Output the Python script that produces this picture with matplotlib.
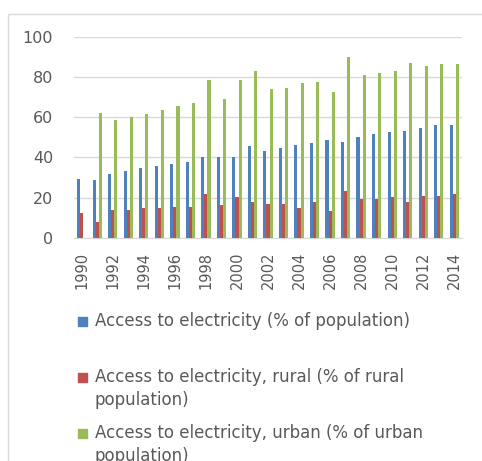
import matplotlib
matplotlib.use('Agg')
import matplotlib.pyplot as plt
from matplotlib.patches import Rectangle
import numpy as np

# Access to electricity, 1990-2014
years = list(range(1990, 2015))
total = [29.4, 28.6, 31.7, 33.2, 34.7, 35.7, 37.0, 37.8, 40.1, 40.1,
         40.1, 45.6, 43.3, 44.7, 46.2, 47.0, 48.5, 47.9, 50.2, 51.6,
         52.5, 53.3, 54.8, 56.3, 56.3]
rural = [12.5, 8.1, 14.1, 14.1, 14.8, 14.8, 15.6, 15.6, 21.9, 16.4,
         20.4, 17.9, 17.1, 17.1, 14.8, 17.9, 13.3, 23.4, 19.6, 19.6,
         20.2, 17.9, 21.1, 21.1, 21.9]
urban = [np.nan, 62.3, 58.6, 60.0, 61.7, 63.8, 65.5, 66.9, 78.5, 69.2,
         78.5, 83.1, 73.8, 74.7, 77.0, 77.6, 72.4, 90.0, 80.8, 82.2,
         83.1, 86.8, 85.4, 86.2, 86.2]

labels = ['Access to electricity (% of population)',
          'Access to electricity, rural (% of rural\npopulation)',
          'Access to electricity, urban (% of urban\npopulation)']
colors = ['#4f81bd', '#c0504d', '#9bbb59']
text_color = '#595959'

W, H = 482, 461
fig = plt.figure(figsize=(W / 100, H / 100), dpi=100)
ax = fig.add_axes([74 / W, 1 - 238 / H, (462 - 74) / W, (238 - 36.7) / H])

x = np.arange(len(years))
w = 0.2
for i, series in enumerate([total, rural, urban]):
    ax.bar(x + (i - 1) * w, series, width=w, color=colors[i], zorder=3)

ax.set_xlim(-0.5, len(years) - 0.5)
ax.set_ylim(0, 100)
ax.set_yticks(range(0, 101, 20))
ax.set_xticks(x[::2])
ax.set_xticklabels([str(y) for y in years[::2]], rotation=90)
ax.tick_params(axis='y', length=0, pad=15, labelsize=11.5, labelcolor=text_color)
ax.tick_params(axis='x', length=0, pad=10, labelsize=10.5, labelcolor=text_color)
ax.grid(axis='y', color='#d9d9d9', linewidth=1, zorder=0)
for side in ['left', 'right', 'top']:
    ax.spines[side].set_visible(False)
ax.spines['bottom'].set_color('#d9d9d9')

# legend drawn below the plot, one two-line slot per series
entry_y = [321, 377, 433]
for i in range(3):
    fig.add_artist(Rectangle((78 / W, 1 - (entry_y[i] + 4.5) / H), 9 / W, 9 / H,
                             transform=fig.transFigure, color=colors[i]))
    fig.text(95 / W, 1 - (entry_y[i] - 9) / H, labels[i], ha='left', va='top',
             fontsize=12, color=text_color, linespacing=1.35)

# chart frame
fig.add_artist(Rectangle((8 / W, -0.1), 1.2, 1 - 14 / H + 0.1,
                         transform=fig.transFigure, fill=False,
                         edgecolor='#d9d9d9', linewidth=1))

fig.savefig('out.png', dpi=100)
